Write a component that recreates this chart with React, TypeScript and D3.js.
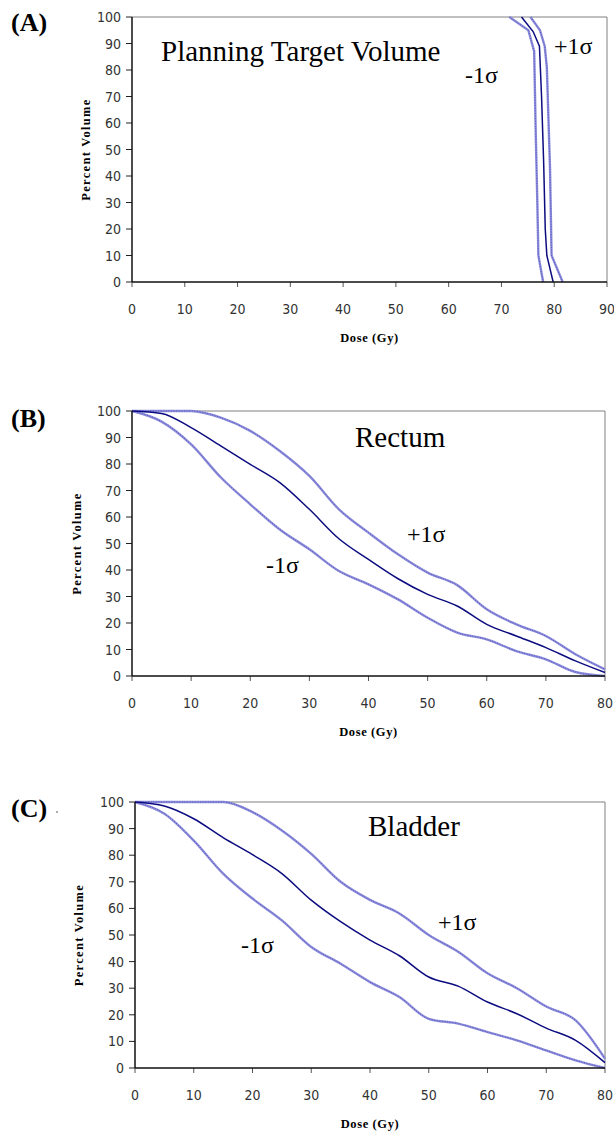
import React from "react";
import * as d3 from "d3";

// ---------- Data ----------
// Panel A: Planning Target Volume (dose Gy, percent volume)
const ptvMeanDose = [73.8, 76.0, 77.2, 77.6, 78.0, 78.3, 78.6, 79.8];
const ptvMeanVol = [100, 94.5, 89, 70, 45, 20, 10, 0];
const ptvLowDose = [71.5, 75.1, 76.2, 76.5, 76.8, 77.0, 77.9];
const ptvLowVol = [100, 95, 87, 56, 30, 10, 0];
const ptvHighDose = [75.5, 77.3, 78.2, 78.6, 79.2, 79.5, 81.6];
const ptvHighVol = [100, 95, 89, 81, 43, 10, 0];

// Panels B and C share dose sampling
const doseGrid = [0, 5, 10, 15, 20, 25, 30, 35, 40, 45, 50, 55, 60, 65, 70, 75, 80];

// Panel B: Rectum
const rectumMean = [100, 99.1, 93.7, 86.8, 79.9, 73.0, 62.9, 51.8, 44.0, 36.7, 30.8, 26.4, 19.5, 15.1, 10.7, 5.7, 1.3];
const rectumHigh = [100, 100, 100, 97.5, 92.5, 84.9, 75.5, 62.9, 54.1, 45.9, 39.0, 34.3, 25.2, 19.5, 15.1, 8.2, 2.5];
const rectumLow = [100, 96, 87.4, 75.0, 64.8, 55.3, 47.8, 39.6, 34.6, 28.9, 22.0, 16.4, 13.8, 9.4, 6.3, 1.5, 0];

// Panel C: Bladder
const bladderMean = [100, 98.5, 93.7, 86.6, 80.2, 73.1, 63.1, 55.0, 48.1, 42.2, 34.2, 30.8, 24.8, 20.4, 15.0, 10.4, 2.0];
const bladderHigh = [100, 100, 100, 100, 96.2, 89.3, 80.5, 70.0, 63.2, 58.1, 50.0, 43.7, 35.6, 30.0, 23.1, 17.9, 3.5];
const bladderLow = [100, 95.6, 85.5, 73.1, 63.7, 55.5, 45.5, 39.2, 32.3, 26.7, 18.5, 16.7, 13.5, 10.4, 6.6, 2.9, 0];

const yTicks = [0, 10, 20, 30, 40, 50, 60, 70, 80, 90, 100];
const xTicksA = [0, 10, 20, 30, 40, 50, 60, 70, 80, 90];
const xTicksBC = [0, 10, 20, 30, 40, 50, 60, 70, 80];

type Pt = [number, number];
const zip = (xs: number[], ys: number[]): Pt[] => xs.map((x, i) => [x, ys[i]]);

interface Label { text: string; x: number; y: number }
interface PanelProps {
  tag: string;
  tagY: number;
  left: number; right: number; top: number; bottom: number;
  xMax: number;
  xTicks: number[];
  mean: Pt[]; low: Pt[]; high: Pt[];
  curve: d3.CurveFactory;
  title: Label; plus: Label; minus: Label;
  yTitleX: number;
  titleSize: number;
  dot?: boolean;
}

const SERIF = "Liberation Serif, Times New Roman, serif";
const SANS = "Liberation Sans Narrow, DejaVu Sans Condensed, sans-serif";
const MEAN = "#0c0c80";
const SIG = "#8c8cda";
const SIG2 = "#4e4ebe";

function Panel(p: PanelProps) {
  const x = d3.scaleLinear().domain([0, p.xMax]).range([p.left, p.right]);
  const y = d3.scaleLinear().domain([0, 100]).range([p.bottom, p.top]);
  const line = d3.line<Pt>().x(d => x(d[0])).y(d => y(d[1])).curve(p.curve);
  const cx = (p.left + p.right) / 2;
  const cy = (p.top + p.bottom) / 2;
  return (
    <g>
      <text x={11} y={p.tagY} fontFamily={SERIF} fontWeight="bold" fontSize={26} fill="#000">{p.tag}</text>
      {p.dot && <circle cx={57} cy={p.tagY - 5} r={0.8} fill="#444" />}
      {/* frame */}
      <line x1={p.left} x2={p.right} y1={p.top} y2={p.top} stroke="#808080" strokeWidth={1} />
      <line x1={p.right} x2={p.right} y1={p.top} y2={p.bottom} stroke="#808080" strokeWidth={1} />
      {/* y ticks */}
      {yTicks.map(t => (
        <g key={"y" + t}>
          <line x1={p.left - 6} x2={p.left} y1={y(t)} y2={y(t)} stroke="#222" strokeWidth={1} />
          <text x={p.left - 11} y={y(t) + 5} textAnchor="end" fontFamily={SANS} fontSize={14} fill="#333">{t}</text>
        </g>
      ))}
      {/* x ticks */}
      {p.xTicks.map(t => (
        <g key={"x" + t}>
          <line x1={x(t)} x2={x(t)} y1={p.bottom} y2={p.bottom + 5} stroke="#555" strokeWidth={1} />
          <text x={x(t)} y={p.bottom + 32} textAnchor="middle" fontFamily={SANS} fontSize={14} fill="#333">{t}</text>
        </g>
      ))}
      {/* curves */}
      {[p.low, p.high].map((d, i) => (
        <g key={"s" + i}>
          <path d={line(d) || ""} fill="none" stroke={SIG} strokeWidth={2.4} />
          <path d={line(d) || ""} fill="none" stroke={SIG2} strokeWidth={0.9} strokeDasharray="1 1.6" />
        </g>
      ))}
      <path d={line(p.mean) || ""} fill="none" stroke={MEAN} strokeWidth={1.5} />
      {/* axes */}
      <line x1={p.left} x2={p.left} y1={p.top} y2={p.bottom} stroke="#111" strokeWidth={1.5} />
      <line x1={p.left} x2={p.right} y1={p.bottom} y2={p.bottom} stroke="#111" strokeWidth={1.5} />
      {/* labels */}
      <text x={p.title.x} y={p.title.y} fontFamily={SERIF} fontSize={p.titleSize} fill="#000">{p.title.text}</text>
      <text x={p.plus.x} y={p.plus.y} fontFamily={SERIF} fontSize={24} fill="#000">{p.plus.text}</text>
      <text x={p.minus.x} y={p.minus.y} fontFamily={SERIF} fontSize={24} fill="#000">{p.minus.text}</text>
      <text x={cx} y={p.bottom + 60} textAnchor="middle" fontFamily={SERIF} fontWeight="bold" fontSize={12.5} letterSpacing={0.6} fill="#000">Dose (Gy)</text>
      <text transform={`translate(${p.yTitleX},${cy}) rotate(-90)`} textAnchor="middle" fontFamily={SERIF} fontWeight="bold" fontSize={12.5} letterSpacing={1.3} fill="#000">Percent Volume</text>
    </g>
  );
}

export default function App() {
  return (
    <svg width={614} height={1135} style={{ position: "absolute", left: 0, top: 0, background: "#fff" }}>
      <rect width={614} height={1135} fill="#fff" />
      <Panel tag="(A)" tagY={31} left={132} right={607} top={17} bottom={282} xMax={90} xTicks={xTicksA}
        mean={zip(ptvMeanDose, ptvMeanVol)} low={zip(ptvLowDose, ptvLowVol)} high={zip(ptvHighDose, ptvHighVol)}
        curve={d3.curveLinear}
        title={{ text: "Planning Target Volume", x: 161, y: 61 }}
        plus={{ text: "+1σ", x: 554, y: 54 }}
        minus={{ text: "-1σ", x: 465, y: 83 }}
        yTitleX={90} titleSize={29} />
      <Panel tag="(B)" tagY={427} left={132} right={605} top={411} bottom={676} xMax={80} xTicks={xTicksBC}
        mean={zip(doseGrid, rectumMean)} low={zip(doseGrid, rectumLow)} high={zip(doseGrid, rectumHigh)}
        curve={d3.curveMonotoneX}
        title={{ text: "Rectum", x: 355, y: 447 }}
        plus={{ text: "+1σ", x: 407, y: 542 }}
        minus={{ text: "-1σ", x: 266, y: 573 }}
        yTitleX={81} titleSize={29} />
      <Panel tag="(C)" tagY={817} dot left={135} right={605} top={802} bottom={1068} xMax={80} xTicks={xTicksBC}
        mean={zip(doseGrid, bladderMean)} low={zip(doseGrid, bladderLow)} high={zip(doseGrid, bladderHigh)}
        curve={d3.curveMonotoneX}
        title={{ text: "Bladder", x: 368, y: 836 }}
        plus={{ text: "+1σ", x: 438, y: 930 }}
        minus={{ text: "-1σ", x: 241, y: 953 }}
        yTitleX={83} titleSize={29} />
    </svg>
  );
}
